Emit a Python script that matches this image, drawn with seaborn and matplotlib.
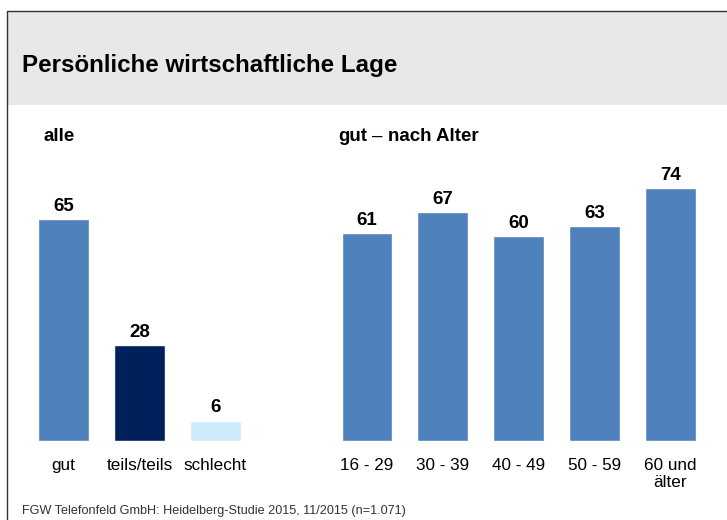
import matplotlib.pyplot as plt
import pandas as pd
import seaborn as sns
from matplotlib.patches import Rectangle
from matplotlib.lines import Line2D

# data
alle_labels = ['gut', 'teils/teils', 'schlecht']
alle_values = [65, 28, 6]
alle_colors = ['#4F81BD', '#00205B', '#CCEBFB']

alter_labels = ['16 - 29', '30 - 39', '40 - 49', '50 - 59', '60 und\nälter']
alter_values = [61, 67, 60, 63, 74]
alter_color = '#4F81BD'

title = 'Persönliche wirtschaftliche Lage'
source = 'FGW Telefonfeld GmbH: Heidelberg-Studie 2015, 11/2015 (n=1.071)'

sns.set_theme(style='white')
plt.rcParams['font.family'] = ['Liberation Sans', 'DejaVu Sans']
plt.rcParams['text.color'] = 'black'
plt.rcParams['xtick.color'] = 'black'

W, H = 727, 520
fig = plt.figure(figsize=(W / 100, H / 100), dpi=100)

# header band and frame
fig.patches.append(Rectangle((8 / W, 1 - 105 / H), 1, 93 / H, transform=fig.transFigure,
                             facecolor='#E8E8E8', edgecolor='none', zorder=0))
fig.lines.append(Line2D([7 / W, 1], [1 - 11 / H, 1 - 11 / H], transform=fig.transFigure,
                        color='#333333', lw=1))
fig.lines.append(Line2D([7 / W, 7 / W], [0, 1 - 11 / H], transform=fig.transFigure,
                        color='#333333', lw=1))
fig.text(22 / W, 1 - 72 / H, title, fontsize=17.4, fontweight='bold', va='baseline', ha='left')

ymax = 100
base = 441
top = base - 3.415 * ymax


def make_ax(x0, x1):
    return fig.add_axes([x0 / W, 1 - base / H, (x1 - x0) / W, (base - top) / H])


df_alle = pd.DataFrame({'label': alle_labels, 'value': alle_values})
ax1 = make_ax(25.5, 253.5)
sns.barplot(data=df_alle, x='label', y='value', hue='label', palette=alle_colors,
            width=0.67, legend=False, ax=ax1, saturation=1)

df_alter = pd.DataFrame({'label': alter_labels, 'value': alter_values})
ax2 = make_ax(329, 708.5)
sns.barplot(data=df_alter, x='label', y='value', color=alter_color,
            width=0.67, ax=ax2, saturation=1)

for ax in (ax1, ax2):
    ax.set_ylim(0, ymax)
    ax.set_xlim(-0.5, len(ax.patches) - 0.5)
    ax.set_xlabel('')
    ax.set_ylabel('')
    ax.set_yticks([])
    ax.tick_params(axis='x', length=0, pad=12, labelsize=12.3, labelcolor='black')
    for lbl in ax.get_xticklabels():
        lbl.set_verticalalignment('top')
    sns.despine(ax=ax, left=True, bottom=True)
    ax.patch.set_alpha(0)
    for c in ax.containers:
        ax.bar_label(c, fmt='%d', padding=3, fontsize=13.5, fontweight='bold', color='black')

sub_y = 1 - 141 / H
fig.text(43 / W, sub_y, 'alle', fontsize=13.5, fontweight='bold', va='baseline')
fig.text(338 / W, sub_y, 'gut', fontsize=13.5, fontweight='bold', va='baseline')
fig.text(372 / W, sub_y, '–', fontsize=13.5, va='baseline')
fig.text(388 / W, sub_y, 'nach Alter', fontsize=13.5, fontweight='bold', va='baseline')

fig.text(22 / W, 1 - 505 / H, source, fontsize=9.1, color='#333333', va='top')

fig.savefig('out.png', dpi=100)
